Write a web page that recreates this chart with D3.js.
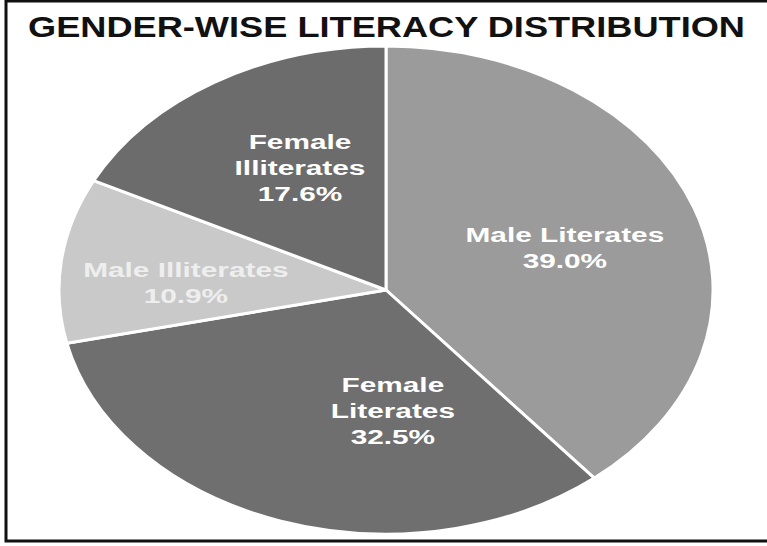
<!DOCTYPE html>
<html>
<head>
<meta charset="utf-8">
<script src="https://cdn.jsdelivr.net/npm/d3@7"></script>
<style>
  html, body { margin: 0; padding: 0; background: #fff; }
  svg { display: block; }
</style>
</head>
<body>
<svg id="chart" width="767" height="546"></svg>
<script>
// ---- data ----
const categories = ["Male Literates", "Female Literates", "Male Illiterates", "Female Illiterates"];
const values = [39.0, 32.5, 10.9, 17.6];
const labelLines = [["Male Literates"], ["Female", "Literates"], ["Male Illiterates"], ["Female", "Illiterates"]];
const titleText = "GENDER-WISE LITERACY DISTRIBUTION";

// ---- layout / style ----
const W = 767, H = 546;
const cx = 386, cy = 290, rx = 327, ry = 244;
const colors = ["#9b9b9b", "#6f6f6f", "#c9c9c9", "#6c6c6c"];
const textColors = ["#ffffff", "#ffffff", "#eeeeee", "#ffffff"];
// label block centres as fractions of the ellipse radii
const labelAnchors = [[0.547, -0.172], [0.021, 0.496], [-0.612, -0.029], [-0.263, -0.50]];

const svg = d3.select("#chart");

svg.append("rect")
  .attr("x", 6).attr("y", 1)
  .attr("width", 820).attr("height", 540)
  .attr("fill", "none").attr("stroke", "#111").attr("stroke-width", 3);

svg.append("text")
  .attr("x", 28).attr("y", 37)
  .attr("textLength", 717).attr("lengthAdjust", "spacingAndGlyphs")
  .attr("font-family", "'Liberation Sans', Arial, sans-serif")
  .attr("font-weight", "bold").attr("font-size", 30)
  .attr("fill", "#111")
  .text(titleText);

const data = categories.map((c, i) => ({ name: c, value: values[i], i }));
const pie = d3.pie().value(d => d.value).sort(null);
const arcs = pie(data);
const arc = d3.arc().innerRadius(0).outerRadius(1);

const g = svg.append("g")
  .attr("transform", `translate(${cx},${cy}) scale(${rx},${ry})`);

g.selectAll("path")
  .data(arcs)
  .join("path")
  .attr("d", arc)
  .attr("fill", d => colors[d.data.i])
  .attr("stroke", "#fff")
  .attr("stroke-width", 3)
  .attr("stroke-linejoin", "round")
  .attr("vector-effect", "non-scaling-stroke");

const lineH = 26;
const labels = svg.append("g");
arcs.forEach(a => {
  const i = a.data.i;
  const lines = labelLines[i].concat([a.data.value.toFixed(1) + "%"]);
  const bx = cx + labelAnchors[i][0] * rx;
  const by = cy + labelAnchors[i][1] * ry;
  const top = by - (lines.length - 1) * lineH / 2;
  lines.forEach((t, k) => {
    labels.append("text")
      .attr("transform", `translate(${bx},${top + k * lineH}) scale(1.42,1)`)
      .attr("text-anchor", "middle")
      .attr("dominant-baseline", "central")
      .attr("font-family", "'Liberation Sans', Arial, sans-serif")
      .attr("font-weight", "bold")
      .attr("font-size", 21)
      .attr("fill", textColors[i])
      .text(t);
  });
});
</script>
</body>
</html>
